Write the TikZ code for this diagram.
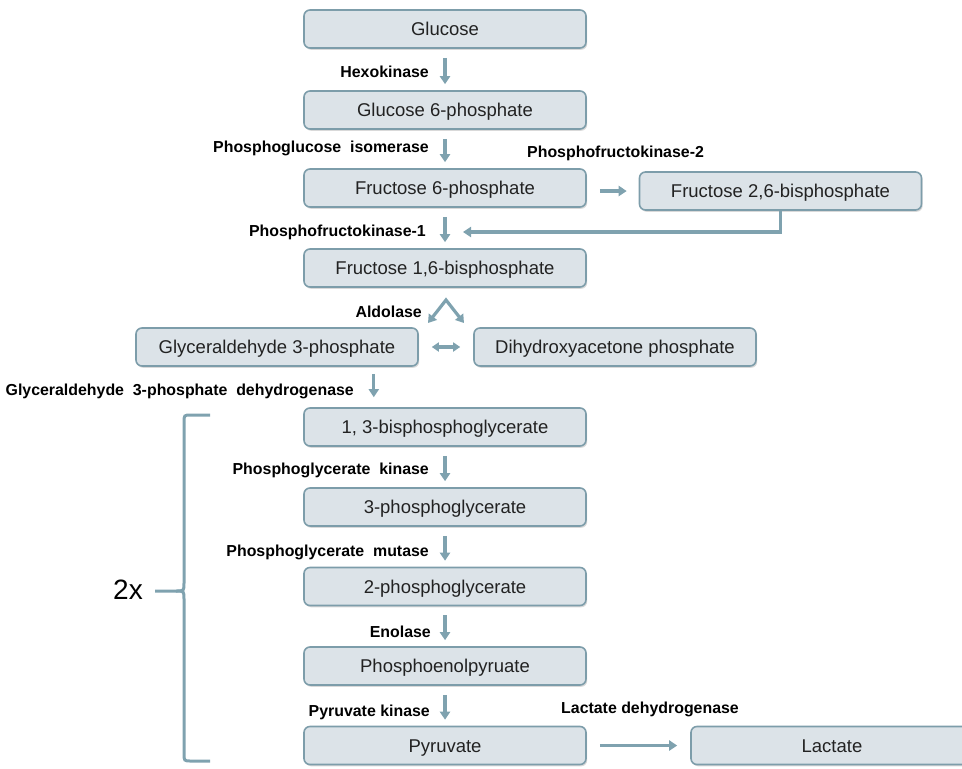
\documentclass[tikz,border=0pt]{standalone}
\usepackage{fontspec}
\setmainfont{Liberation Sans}
\usepackage{xcolor}
\usepackage{tikz}
\usetikzlibrary{arrows.meta,calc,positioning,shadows}

\definecolor{boxfill}{HTML}{DCE3E8}
\definecolor{boxline}{HTML}{7D9DAA}
\definecolor{arrowcol}{HTML}{7FA2AF}
\definecolor{boxtext}{HTML}{222222}

\tikzset{
  box/.style={draw=boxline, fill=boxfill, line width=1.6pt, rounded corners=6pt,
    minimum width=282pt, minimum height=38pt, inner sep=0pt, text=boxtext,
    text height=13.4pt, text depth=0pt,
    font=\fontsize{18.5}{20}\selectfont,
    drop shadow={shadow xshift=1.2pt, shadow yshift=-1.8pt, opacity=0.3}},
  enzyme/.style={font=\fontsize{15.9}{17}\selectfont\bfseries, inner sep=0pt,
    text height=11.4pt, text depth=0pt},
  conv/.style={draw=arrowcol, line width=3.2pt, -{Triangle[length=8pt,width=10pt]},
    shorten <=9pt, shorten >=6pt},
  brace/.style={draw=arrowcol, line width=3pt}
}

\begin{document}
\begin{tikzpicture}[x=1pt,y=-1pt]
  \useasboundingbox (0,0) rectangle (962,769);
  % metabolites
  \node[box] (glc) at (445,29) {Glucose};
  \node[box] (g6p) at (445,110) {Glucose 6-phosphate};
  \node[box] (f6p) at (445,188) {Fructose 6-phosphate};
  \node[box] (f26bp) at (780.5,191) {Fructose 2,6-bisphosphate};
  \node[box] (f16bp) at (445,268) {Fructose 1,6-bisphosphate};
  \node[box] (gap) at (277,347) {Glyceraldehyde 3-phosphate};
  \node[box] (dhap) at (615,347) {Dihydroxyacetone phosphate};
  \node[box] (bpg) at (445,427) {1, 3-bisphosphoglycerate};
  \node[box] (pg3) at (445,507) {3-phosphoglycerate};
  \node[box] (pg2) at (445,586.5) {2-phosphoglycerate};
  \node[box] (pep) at (445,666) {Phosphoenolpyruate};
  \node[box] (pyr) at (445,745.5) {Pyruvate};
  \node[box] (lac) at (832,745.5) {Lactate};

  % enzymes
  \node[enzyme, anchor=east] (hk) at (429,72) {Hexokinase};
  \node[enzyme, anchor=east] (pgi) at (429,147) {Phosphoglucose\ \ isomerase};
  \node[enzyme, anchor=west] (pfk2) at (527,152) {Phosphofructokinase-2};
  \node[enzyme, anchor=east] (pfk1) at (426,231) {Phosphofructokinase-1};
  \node[enzyme, anchor=east] (aldo) at (422,312) {Aldolase};
  \node[enzyme, anchor=east] (gapdh) at (354,390) {Glyceraldehyde\ \ 3-phosphate\ \ dehydrogenase};
  \node[enzyme, anchor=east] (pgk) at (429,469) {Phosphoglycerate\ \ kinase};
  \node[enzyme, anchor=east] (pgm) at (429,551) {Phosphoglycerate\ \ mutase};
  \node[enzyme, anchor=east] (eno) at (431,632) {Enolase};
  \node[enzyme, anchor=east] (pk) at (430,711) {Pyruvate kinase};
  \node[enzyme, anchor=west] (ldh) at (561,708) {Lactate dehydrogenase};

  % arrows
  \draw[conv] (glc) -- (g6p);
  \draw[conv] (g6p) -- (f6p);
  \draw[conv] (f6p) -- (f16bp);
  \draw[conv, shorten <=13pt, shorten >=12pt] (f6p.east |- f26bp.west) -- (f26bp.west);
  \coordinate (pfkin) at (463,232);
  \draw[conv, shorten <=0pt, shorten >=0pt] (f26bp.south) |- (pfkin);
  \coordinate (ald) at (446,300);
  \coordinate (aldl) at (428,323);
  \coordinate (aldr) at (464,323);
  \draw[conv, {Triangle[length=8pt,width=10pt]}-{Triangle[length=8pt,width=10pt]},
    shorten <=0pt, shorten >=0pt] (aldl) -- (ald) -- (aldr);
  \draw[conv, {Triangle[length=7pt,width=9pt]}-{Triangle[length=7pt,width=9pt]},
    shorten <=13pt, shorten >=13pt] (gap) -- (dhap);
  \draw[conv, shorten <=7pt, shorten >=10pt] ([xshift=-45pt]gap.south east)
    -- ([xshift=-45pt]gap.south east |- bpg.north);
  \draw[conv] (bpg) -- (pg3);
  \draw[conv] (pg3) -- (pg2);
  \draw[conv] (pg2) -- (pep);
  \draw[conv] (pep) -- (pyr);
  \draw[conv, shorten <=13pt, shorten >=13pt] (pyr) -- (lac);

  % brace
  \draw[brace] (210,415) -- (191,415) .. controls (184,415) .. (184,423)
    -- (184,583) .. controls (184,591) .. (176,591) -- (155,591);
  \draw[brace] (176,591) .. controls (184,591) .. (184,599)
    -- (184,753) .. controls (184,761) .. (191,761) -- (210,761);
  \node[font=\fontsize{28}{30}\selectfont] (twox) at (128,590) {2x};
\end{tikzpicture}
\end{document}
